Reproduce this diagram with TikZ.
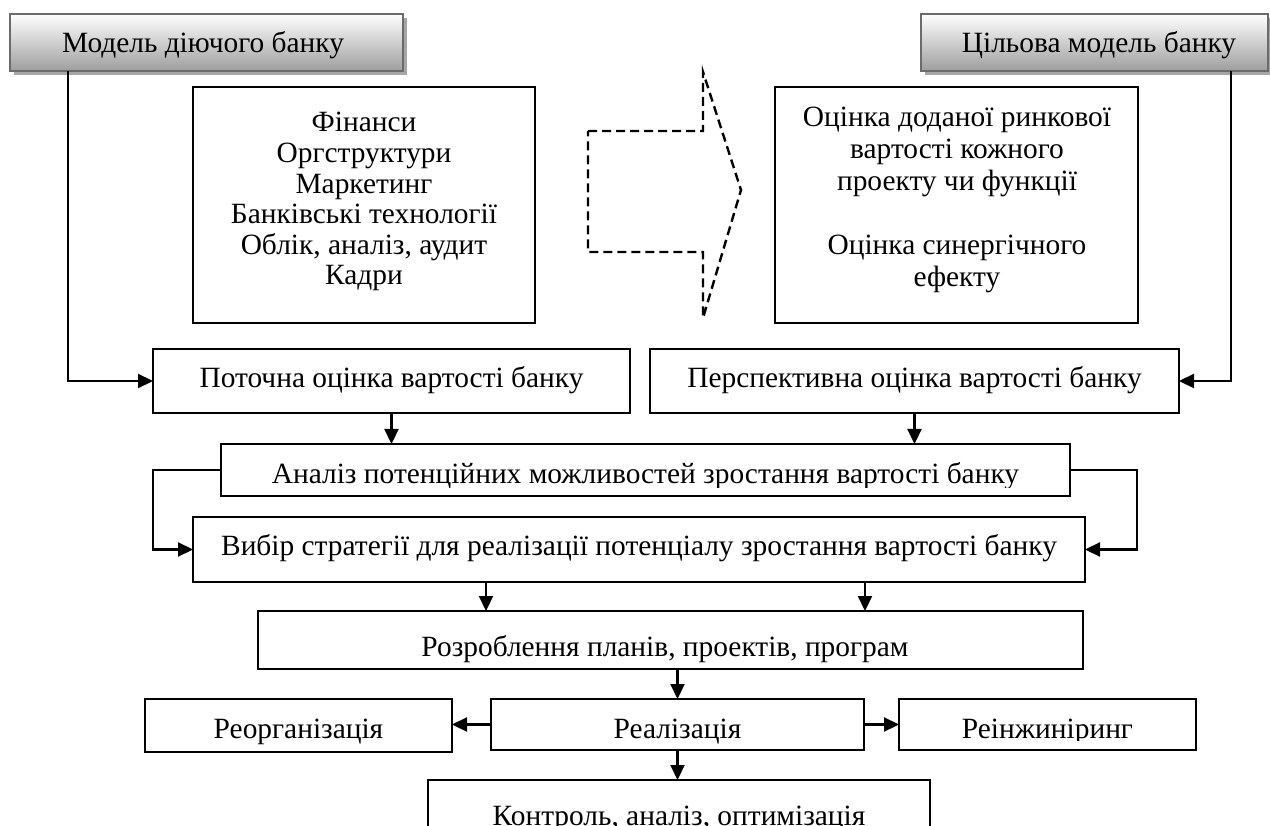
\documentclass[tikz,border=0pt]{standalone}
\usepackage{fontspec}
\setmainfont{Liberation Serif}
\usetikzlibrary{arrows.meta,shadows,calc}
\tikzset{
  box/.style={draw=black, line width=2.2pt, inner sep=0pt, outer sep=0pt, fill=white},
  topbox/.style={draw=black!58, line width=2.6pt, inner sep=0pt, outer sep=0pt,
     top color=white, bottom color=black!38,
     drop shadow={shadow xshift=4pt, shadow yshift=-4pt, fill=black!35, opacity=1}},
  txt/.style={inner sep=0pt, font=\fontsize{29.4}{30.6}\selectfont},
  arr/.style={line width=2.2pt, -{Triangle[length=15pt,width=14pt]}},
  dashedarrow/.style={line width=2.4pt, dash pattern=on 9pt off 5pt}
}
\begin{document}
\begin{tikzpicture}[x=1pt,y=-1pt]
\useasboundingbox (0,0) rectangle (1270,826);
% top boxes
\node[topbox, minimum width=393pt, minimum height=57pt] (m1) at (206.5,42.5) {};
\node[txt, anchor=base] (m1t) at (203,53) {Модель діючого банку};
\node[topbox, minimum width=347pt, minimum height=57pt] (m2) at (1094.5,42.5) {};
\node[txt, anchor=base] (m2t) at (1099,53) {Цільова модель банку};
% content boxes
\node[box, minimum width=342pt, minimum height=236pt] (fin) at (364,205) {};
\node[txt, anchor=base] (fint) at (364,132) {\begin{tabular}[t]{@{}c@{}}Фінанси\\Оргструктури\\Маркетинг\\Банківські технології\\Облік, аналіз, аудит\\Кадри\end{tabular}};
\node[box, minimum width=363pt, minimum height=236pt] (ev) at (956.5,205) {};
\node[txt, anchor=base, font=\fontsize{29.4}{32}\selectfont] (evt) at (957,127) {\begin{tabular}[t]{@{}c@{}}Оцінка доданої ринкової\\вартості кожного\\проекту чи функції\\[32pt]Оцінка синергічного\\ефекту\end{tabular}};
% dashed arrow
\draw[dashedarrow] (588,131) -- (703,131) -- (703,72) -- (741,190) -- (703,318) -- (703,252) -- (588,252) -- cycle;
% evaluation boxes
\node[box, minimum width=477pt, minimum height=64pt] (pot) at (391.5,381) {};
\node[txt, anchor=base] (pott) at (391.5,388) {Поточна оцінка вартості банку};
\node[box, minimum width=529pt, minimum height=64pt] (pers) at (914.5,381) {};
\node[txt, anchor=base] (perst) at (914.5,388) {Перспективна оцінка вартості банку};
% analysis
\node[box, minimum width=849pt, minimum height=52pt] (an) at (645.5,470) {};
\begin{scope}
\clip (221,444) rectangle (1070,487);
\node[txt, anchor=base] (ant) at (645.5,483) {Аналіз потенційних можливостей зростання вартості банку};
\end{scope}
\node[box, minimum width=892pt, minimum height=65pt] (vyb) at (639,549.5) {};
\node[txt, anchor=base] (vybt) at (639,555) {Вибір стратегії для реалізації потенціалу зростання вартості банку};
\node[box, minimum width=825pt, minimum height=58pt] (roz) at (670.5,640) {};
\node[txt, anchor=base] (rozt) at (665,656) {Розроблення планів, проектів, програм};
\node[box, minimum width=373pt, minimum height=51pt] (real) at (677.5,724.5) {};
\node[txt, anchor=base] (realt) at (677.5,738) {Реалізація};
\node[box, minimum width=307pt, minimum height=53pt] (reorg) at (298.5,725.5) {};
\node[txt, anchor=base] (reorgt) at (298.5,738) {Реорганізація};
\node[box, minimum width=297pt, minimum height=51pt] (rein) at (1047.5,724.5) {};
\begin{scope}
\clip (899,699) rectangle (1196,740);
\node[txt, anchor=base] (reint) at (1047.5,738) {Реінжиніринг};
\end{scope}
\node[box, minimum width=502pt, minimum height=70pt] (kon) at (679,815) {};
\node[txt, anchor=base] (kont) at (679,825) {Контроль, аналіз, оптимізація};
% connectors
\draw[arr] ([xshift=58pt]m1.south west) |- (pot.west);
\draw[arr] ([xshift=310pt]m2.south west) |- (pers.east);
\draw[arr] (pot.south) -- (pot.south |- an.north);
\draw[arr] (pers.south) -- (pers.south |- an.north);
\draw[arr] (an.west) -- ++(-68,0) |- (vyb.west);
\draw[arr] (an.east) -- ++(67,0) |- (vyb.east);
\draw[arr] ([xshift=-153pt]vyb.south) -- ([xshift=-153pt]vyb.south |- roz.north);
\draw[arr] ([xshift=226pt]vyb.south) -- ([xshift=226pt]vyb.south |- roz.north);
\draw[arr] (real.north |- roz.south) -- (real.north);
\draw[arr] (real.west) -- (reorg.east |- real.west);
\draw[arr] (real.east) -- (rein.west |- real.east);
\draw[arr] (real.south) -- (real.south |- kon.north);
\end{tikzpicture}
\end{document}
